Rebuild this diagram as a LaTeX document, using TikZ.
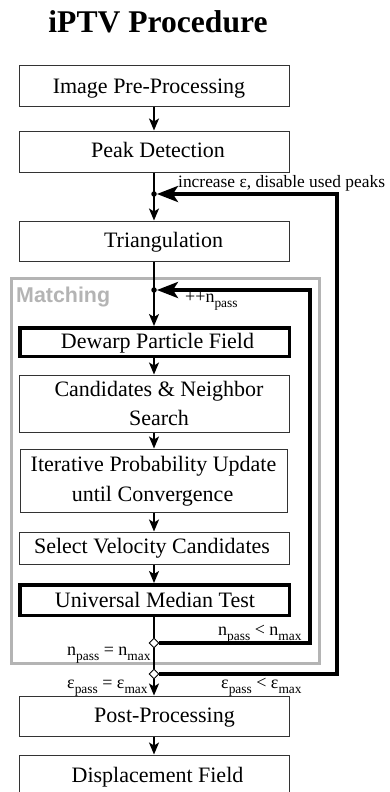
\documentclass[tikz,border=0pt]{standalone}
\usepackage{fontspec}
\setmainfont{Liberation Serif}
\setsansfont{Liberation Sans}
\usetikzlibrary{arrows.meta,shapes.geometric}
\newcommand\sbx[1]{\raisebox{-0.28em}{\fontsize{13.4}{15}\selectfont #1}}
\definecolor{framegray}{HTML}{B4B4B4}
\begin{document}
\begin{tikzpicture}[x=1pt,y=-1pt,
  box/.style={draw=black!80, line width=1pt, fill=white, minimum width=270pt, inner sep=0pt},
  thickbox/.style={box, draw=black, line width=3.5pt, minimum width=269.5pt},
  txt/.style={font=\fontsize{22}{27}\selectfont, inner sep=0pt, anchor=base},
  flow/.style={line width=1.6pt, -{Stealth[length=12pt,width=10pt,inset=3pt]}},
  plain/.style={line width=1.6pt},
  loopline/.style={line width=3.5pt, line join=miter, -{Stealth[length=21pt,width=16pt,inset=5pt]}},
  lbl/.style={font=\fontsize{18}{20}\selectfont, inner sep=0pt, anchor=base west},
  junction/.style={circle, fill=black, inner sep=0pt, minimum size=5.5pt},
  dec/.style={diamond, draw=black, fill=white, line width=0.9pt, inner sep=0pt, minimum size=10pt},
]
\useasboundingbox (0,0) rectangle (390,792);

% title
\node[font=\bfseries\fontsize{31.6}{36}\selectfont, inner sep=0pt, anchor=base] (title) at (158,33) {iPTV Procedure};

% matching frame
\node[draw=framegray, line width=2.8pt, minimum width=308pt, minimum height=385pt, inner sep=0pt] (match) at (165.5,471) {};
\node[font=\sffamily\bfseries\fontsize{21.4}{24}\selectfont, text=framegray, inner sep=0pt, anchor=base west] (matchlbl) at (16,302) {Matching};

% boxes
\node[box, minimum height=40pt] (b1) at (154,86) {};
\node[txt] (t1) at (149,93) {Image Pre-Processing};
\node[box, minimum height=41pt] (b2) at (154,151.5) {};
\node[txt] (t2) at (158,157.5) {Peak Detection};
\node[box, minimum height=40pt] (b3) at (154,241) {};
\node[txt] (t3) at (163.5,247.3) {Triangulation};
\node[thickbox, minimum height=28.5pt] (b4) at (154.5,342) {};
\node[txt] (t4) at (157.5,348.3) {Dewarp Particle Field};
\node[box, minimum height=57pt] (b5) at (154,403.5) {};
\node[txt] (t5a) at (159,396.7) {Candidates \& Neighbor};
\node[txt] (t5b) at (159,425) {Search};
\node[box, minimum width=267pt, minimum height=63pt] (b6) at (153.5,480.5) {};
\node[txt] (t6a) at (153.5,471.7) {Iterative Probability Update};
\node[txt] (t6b) at (152.5,501) {until Convergence};
\node[box, minimum height=32pt] (b7) at (154,548) {};
\node[txt] (t7) at (152,553.3) {Select Velocity Candidates};
\node[thickbox, minimum height=30.5pt] (b8) at (154.5,600) {};
\node[txt] (t8) at (155,607.7) {Universal Median Test};
\node[box, minimum height=40pt] (b9) at (154,716) {};
\node[txt] (t9) at (164.5,722.7) {Post-Processing};
\node[box, minimum height=40pt] (b10) at (154,775) {};
\node[txt] (t10) at (157.5,782.3) {Displacement Field};

% junctions and decisions
\node[junction] (j1) at (154,194) {};
\node[junction] (j2) at (154,290) {};
\node[dec] (d1) at (154,643) {};
\node[dec] (d2) at (154,674) {};

% main flow
\draw[flow] (b1.south -| j1) -- (b2.north -| j1);
\draw[plain] (b2.south -| j1) -- (j1.center);
\draw[flow] (j1.center) -- (b3.north -| j1);
\draw[plain] (b3.south -| j1) -- (j2.center);
\draw[flow] (j2.center) -- (b4.north -| j1);
\draw[flow] (b4.south -| j1) -- (b5.north -| j1);
\draw[flow] (b5.south -| j1) -- (b6.north -| j1);
\draw[flow] (b6.south -| j1) -- (b7.north -| j1);
\draw[flow] (b7.south -| j1) -- (b8.north -| j1);
\draw[plain] (b8.south -| j1) -- (d1.north);
\draw[plain] (d1.south) -- (d2.north);
\draw[flow] (d2.south) -- (b9.north -| j1);
\draw[flow] (b9.south -| j1) -- (b10.north -| j1);

% loops
\draw[loopline] (d1.east) -- (310,643) -- (310,290) -- (j2.east);
\draw[loopline] (d2.east) -- (337,674) -- (337,194) -- (j1.east);

% labels
\node[lbl, font=\fontsize{17.4}{20}\selectfont] (l1) at (178,187) {increase ε, disable used peaks};
\node[lbl] (l2) at (185,302) {++n\sbx{pass}};
\node[lbl] (l3) at (218,635) {n\sbx{pass} < n\sbx{max}};
\node[lbl] (l4) at (67,655) {n\sbx{pass} = n\sbx{max}};
\node[lbl] (l5) at (67,688) {ε\sbx{pass} = ε\sbx{max}};
\node[lbl] (l6) at (221,688) {ε\sbx{pass} < ε\sbx{max}};
\end{tikzpicture}
\end{document}
